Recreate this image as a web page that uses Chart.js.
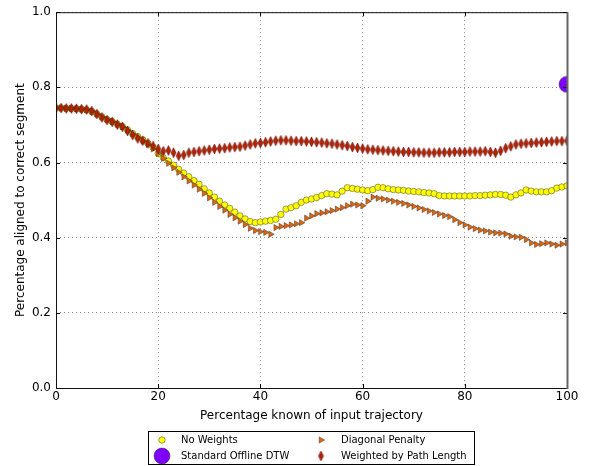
<!DOCTYPE html>
<html>
<head>
<meta charset="utf-8">
<script src="https://cdn.jsdelivr.net/npm/chart.js@4/dist/chart.umd.min.js"></script>
<style>
  html, body { margin: 0; padding: 0; background: #fff; }
  #wrap { width: 592px; height: 466px; }
</style>
</head>
<body>
<div id="wrap"><canvas id="c" width="592" height="466"></canvas></div>
<script>
// Percentage of the input trajectory seen so far (0..100, step 1)
const known = Array.from({ length: 101 }, (_, i) => i);

const noWeights = [
  0.745, 0.745, 0.744, 0.744, 0.743, 0.742, 0.740, 0.736, 0.729, 0.721,
  0.714, 0.709, 0.702, 0.696, 0.687, 0.677, 0.669, 0.660, 0.651, 0.640,
  0.624, 0.613, 0.604, 0.593, 0.582, 0.572, 0.562, 0.552, 0.542, 0.530,
  0.519, 0.508, 0.497, 0.487, 0.478, 0.468, 0.458, 0.450, 0.443, 0.440,
  0.442, 0.444, 0.446, 0.449, 0.462, 0.476, 0.480, 0.485, 0.494, 0.500,
  0.503, 0.507, 0.512, 0.517, 0.516, 0.514, 0.524, 0.533, 0.531, 0.529,
  0.527, 0.525, 0.528, 0.534, 0.533, 0.530, 0.528, 0.527, 0.526, 0.524,
  0.523, 0.522, 0.520, 0.519, 0.517, 0.512, 0.511, 0.511, 0.511, 0.511,
  0.511, 0.511, 0.512, 0.512, 0.513, 0.514, 0.515, 0.515, 0.513, 0.508,
  0.514, 0.519, 0.527, 0.524, 0.522, 0.522, 0.522, 0.525, 0.532, 0.535,
  0.538
];

const diagonalPenalty = [
  0.745, 0.745, 0.744, 0.744, 0.743, 0.742, 0.740, 0.736, 0.729, 0.721,
  0.714, 0.709, 0.702, 0.695, 0.686, 0.676, 0.667, 0.657, 0.648, 0.636,
  0.624, 0.611, 0.598, 0.586, 0.574, 0.562, 0.551, 0.540, 0.529, 0.518,
  0.506, 0.494, 0.483, 0.473, 0.462, 0.453, 0.444, 0.435, 0.425, 0.419,
  0.416, 0.414, 0.409, 0.427, 0.430, 0.432, 0.434, 0.437, 0.440, 0.452,
  0.458, 0.464, 0.466, 0.469, 0.472, 0.476, 0.480, 0.485, 0.489, 0.487,
  0.485, 0.497, 0.508, 0.505, 0.503, 0.500, 0.497, 0.494, 0.491, 0.487,
  0.483, 0.479, 0.475, 0.471, 0.467, 0.463, 0.459, 0.456, 0.448, 0.440,
  0.434, 0.428, 0.424, 0.420, 0.418, 0.415, 0.413, 0.412, 0.410, 0.404,
  0.402, 0.401, 0.395, 0.386, 0.382, 0.384, 0.386, 0.383, 0.380, 0.383,
  0.386
];

const weightedByPathLength = [
  0.745, 0.745, 0.744, 0.744, 0.743, 0.742, 0.741, 0.737, 0.729, 0.720,
  0.713, 0.708, 0.701, 0.695, 0.684, 0.673, 0.664, 0.658, 0.651, 0.644,
  0.636, 0.630, 0.632, 0.626, 0.618, 0.620, 0.626, 0.628, 0.630, 0.632,
  0.634, 0.636, 0.637, 0.638, 0.640, 0.641, 0.642, 0.645, 0.648, 0.651,
  0.652, 0.654, 0.656, 0.658, 0.659, 0.659, 0.658, 0.657, 0.657, 0.656,
  0.655, 0.654, 0.653, 0.651, 0.650, 0.648, 0.646, 0.644, 0.641, 0.639,
  0.637, 0.635, 0.634, 0.633, 0.632, 0.631, 0.630, 0.629, 0.628, 0.628,
  0.627, 0.627, 0.626, 0.626, 0.626, 0.627, 0.627, 0.627, 0.628, 0.628,
  0.628, 0.629, 0.629, 0.629, 0.630, 0.628, 0.626, 0.631, 0.638, 0.643,
  0.648, 0.650, 0.651, 0.652, 0.653, 0.654, 0.655, 0.656, 0.657, 0.657,
  0.658
];

// Single result for the offline baseline, at the full trajectory
const offlineX = [100];
const offlineY = [0.808];

const xTicks = [0, 20, 40, 60, 80, 100];
const yTicks = [0.0, 0.2, 0.4, 0.6, 0.8, 1.0];

const seriesNames = ['No Weights', 'Standard Offline DTW', 'Diagonal Penalty', 'Weighted by Path Length'];

const FONT = "'DejaVu Sans', sans-serif";
const W = 592;

// Thin vertical diamond marker, pre-rendered on a small canvas
function thinDiamond(w, h, fill, edge) {
  const c = document.createElement('canvas');
  c.width = w + 2; c.height = h + 2;
  const g = c.getContext('2d');
  const cx = c.width / 2, cy = c.height / 2;
  g.beginPath();
  g.moveTo(cx, cy - h / 2);
  g.lineTo(cx + w / 2, cy);
  g.lineTo(cx, cy + h / 2);
  g.lineTo(cx - w / 2, cy);
  g.closePath();
  g.fillStyle = fill;
  g.fill();
  g.lineWidth = 0.6;
  g.strokeStyle = edge;
  g.stroke();
  return c;
}
const diamondImg = thinDiamond(5, 10, '#b82200', 'rgba(60,0,0,0.8)');

// Large circle marker cut at the right axis edge (the point sits on x = 100)
function edgeCircle(r, fill, edge) {
  const c = document.createElement('canvas');
  c.width = 2 * r + 2; c.height = 2 * r + 2;
  const g = c.getContext('2d');
  const cx = c.width / 2, cy = c.height / 2;
  g.beginPath();
  g.rect(0, 0, cx, c.height);
  g.clip();
  g.beginPath();
  g.arc(cx, cy, r, 0, Math.PI * 2);
  g.fillStyle = fill;
  g.fill();
  g.lineWidth = 0.6;
  g.strokeStyle = edge;
  g.stroke();
  return c;
}

function pts(xs, ys) { return xs.map((x, i) => ({ x, y: ys[i] })); }

const edge = 'rgba(40,40,40,0.75)';
const offlineImg = edgeCircle(8, '#8000ff', edge);

const datasets = [
  {
    label: seriesNames[3],
    data: pts(known, weightedByPathLength),
    showLine: false,
    pointStyle: diamondImg,
    pointRadius: 5,
    backgroundColor: '#b82200',
    borderColor: edge,
    order: 1
  },
  {
    label: seriesNames[2],
    data: pts(known, diagonalPenalty),
    showLine: false,
    pointStyle: 'triangle',
    rotation: 90,
    pointRadius: 3.6,
    pointBackgroundColor: '#e0660e',
    pointBorderColor: edge,
    pointBorderWidth: 0.6,
    order: 2
  },
  {
    label: seriesNames[1],
    data: pts(offlineX, offlineY),
    showLine: false,
    pointStyle: offlineImg,
    pointRadius: 8,
    pointBackgroundColor: '#8000ff',
    pointBorderColor: edge,
    pointBorderWidth: 0.6,
    order: 3
  },
  {
    label: seriesNames[0],
    data: pts(known, noWeights),
    showLine: false,
    pointStyle: 'circle',
    pointRadius: 3.2,
    pointBackgroundColor: '#ffff00',
    pointBorderColor: edge,
    pointBorderWidth: 0.6,
    order: 4
  }
];

// Frame, inward ticks and a two-column legend below the plot
const framePlugin = {
  id: 'frameAndLegend',
  afterDraw(chart) {
    const { ctx, chartArea: a, scales } = chart;
    const xs = scales.x, ys = scales.y;
    ctx.save();
    ctx.fillStyle = '#ffffff';
    ctx.fillRect(Math.round(a.right), 0, W - Math.round(a.right), Math.round(a.bottom));
    ctx.fillRect(Math.round(a.left) - 6, 0, 6, Math.round(a.bottom));

    // tick marks pointing inwards on all four sides
    ctx.strokeStyle = '#000';
    ctx.lineWidth = 1;
    ctx.beginPath();
    xTicks.forEach(v => {
      const px = Math.round(xs.getPixelForValue(v)) + 0.5;
      ctx.moveTo(px, a.bottom); ctx.lineTo(px, a.bottom - 4);
      ctx.moveTo(px, a.top); ctx.lineTo(px, a.top + 4);
    });
    yTicks.forEach(v => {
      const py = Math.round(ys.getPixelForValue(v)) + 0.5;
      ctx.moveTo(a.left, py); ctx.lineTo(a.left + 4, py);
      ctx.moveTo(a.right, py); ctx.lineTo(a.right - 4, py);
    });
    ctx.stroke();
    // frame
    ctx.strokeStyle = '#111';
    ctx.lineWidth = 1;
    ctx.beginPath();
    ctx.moveTo(a.left + 0.5, a.bottom + 0.5);
    ctx.lineTo(a.left + 0.5, a.top + 0.5);
    ctx.lineTo(a.right, a.top + 0.5);
    ctx.moveTo(a.left, a.bottom + 0.5);
    ctx.lineTo(a.right + 1, a.bottom + 0.5);
    ctx.stroke();
    ctx.strokeStyle = '#666';
    ctx.lineWidth = 2;
    ctx.beginPath();
    ctx.moveTo(a.right + 0.5, a.top);
    ctx.lineTo(a.right + 0.5, a.bottom + 1);
    ctx.stroke();

    // legend
    const box = { x: 148.5, y: 431.5, w: 326, h: 33 };
    ctx.fillStyle = '#fff';
    ctx.fillRect(box.x, box.y, box.w, box.h);
    ctx.strokeStyle = '#000';
    ctx.lineWidth = 1;
    ctx.strokeRect(box.x, box.y, box.w, box.h);

    const entries = [
      { ds: datasets[3], mx: 162, tx: 181, y: 440 },
      { ds: datasets[2], mx: 162, tx: 181, y: 456, style: 'circle' },
      { ds: datasets[1], mx: 321, tx: 341, y: 440 },
      { ds: datasets[0], mx: 321, tx: 341, y: 456 }
    ];
    entries.forEach(e => {
      const d = e.ds;
      if (d.pointStyle === diamondImg) {
        ctx.drawImage(diamondImg, e.mx - diamondImg.width / 2, e.y - diamondImg.height / 2);
      } else {
        ctx.fillStyle = d.pointBackgroundColor;
        ctx.strokeStyle = d.pointBorderColor;
        ctx.lineWidth = d.pointBorderWidth;
        Chart.helpers.drawPoint(ctx, {
          pointStyle: e.style || d.pointStyle,
          rotation: d.rotation || 0,
          radius: d.pointRadius,
          borderWidth: d.pointBorderWidth
        }, e.mx, e.y);
      }
      ctx.fillStyle = '#000';
      ctx.font = '10px ' + FONT;
      ctx.textAlign = 'left';
      ctx.textBaseline = 'middle';
      ctx.fillText(d.label, e.tx, e.y);
    });
    ctx.restore();
  }
};

new Chart(document.getElementById('c'), {
  type: 'scatter',
  data: { datasets },
  options: {
    responsive: false,
    animation: false,
    events: [],
    layout: { padding: { top: 12, right: 25, bottom: 36, left: 0 } },
    plugins: { legend: { display: false }, tooltip: { enabled: false } },
    scales: {
      x: {
        type: 'linear',
        min: 0, max: 100,
        afterBuildTicks(s) { s.ticks = xTicks.map(v => ({ value: v })); },
        afterFit(s) { s.height = 42; },
        ticks: {
          color: '#000',
          padding: 2,
          font: { family: FONT, size: 12 },
          callback: v => String(v)
        },
        grid: { color: '#8a8a8a', lineWidth: 1, drawTicks: false },
        border: { display: false, dash: [1, 3] },
        title: {
          display: true,
          text: 'Percentage known of input trajectory',
          color: '#000',
          font: { family: FONT, size: 12 },
          padding: { top: 4, bottom: 7 }
        }
      },
      y: {
        type: 'linear',
        min: 0, max: 1,
        afterBuildTicks(s) { s.ticks = yTicks.map(v => ({ value: v })); },
        afterFit(s) { s.width = 56; },
        ticks: {
          color: '#000',
          padding: 5,
          font: { family: FONT, size: 12 },
          callback: v => Number(v).toFixed(1)
        },
        grid: { color: '#8a8a8a', lineWidth: 1, drawTicks: false },
        border: { display: false, dash: [1, 3] },
        title: {
          display: true,
          text: 'Percentage aligned to correct segment',
          color: '#000',
          font: { family: FONT, size: 12 },
          padding: { top: 14, bottom: 4 }
        }
      }
    }
  },
  plugins: [framePlugin]
});
</script>
</body>
</html>
